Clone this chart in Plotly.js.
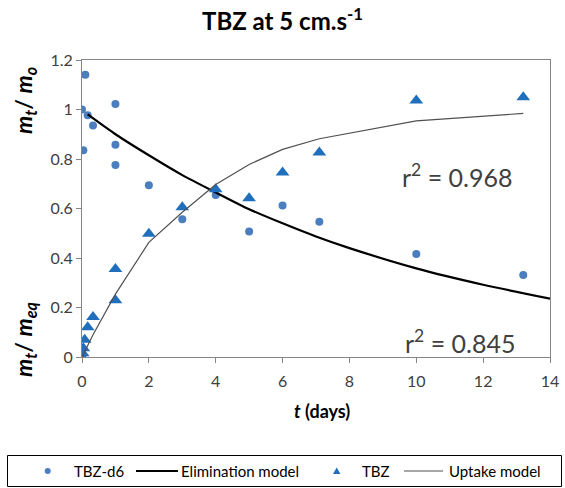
<!DOCTYPE html>
<html>
<head>
<meta charset="utf-8">
<script src="https://cdn.plot.ly/plotly-3.0.1.min.js"></script>
<style>html,body{margin:0;padding:0;background:#fff;}#chart{width:565px;height:488px;}</style>
</head>
<body>
<div id="chart"></div>
<script>
// TBZ-d6 (elimination) measurements
const d6Days = [0, 0.04, 0.1, 0.17, 0.33, 1, 1, 1, 2, 3, 4, 5, 6, 7.1, 10, 13.2];
const d6Ratio = [1.0, 0.835, 1.14, 0.977, 0.935, 1.022, 0.858, 0.776, 0.694, 0.557, 0.655, 0.507, 0.612, 0.546, 0.416, 0.331];

// Elimination model curve
const elimDays = [0.17, 1, 2, 3, 4, 5, 6, 7, 8, 10, 12, 14];
const elimRatio = [0.98, 0.90, 0.815, 0.735, 0.665, 0.597, 0.54, 0.487, 0.44, 0.358, 0.292, 0.236];

// TBZ (uptake) measurements
const tbzDays = [0, 0.02, 0.04, 0.08, 0.17, 0.33, 1, 1, 2, 3, 4, 5, 6, 7.1, 10, 13.2];
const tbzRatio = [0.0, 0.015, 0.035, 0.07, 0.12, 0.162, 0.229, 0.356, 0.498, 0.605, 0.678, 0.641, 0.745, 0.826, 1.036, 1.049];

// Uptake model curve
const upDays = [0, 0.17, 0.33, 1, 2, 3, 4, 5, 6, 7.1, 10, 13.2];
const upRatio = [0.0, 0.045, 0.09, 0.254, 0.463, 0.585, 0.697, 0.778, 0.839, 0.882, 0.954, 0.984];

const xTicks = [0, 2, 4, 6, 8, 10, 12, 14];
const yTicks = [0, 0.2, 0.4, 0.6, 0.8, 1, 1.2];
const r2Labels = ['r<sup>2</sup> = 0.968', 'r<sup>2</sup> = 0.845'];
const seriesNames = ['TBZ-d6', 'Elimination model', 'TBZ', 'Uptake model'];

const FONT = 'Lato, "Open Sans", sans-serif';
const C_D6 = '#4A7EBF', C_TBZ = '#1F6FBD';

const traces = [
  {x: d6Days, y: d6Ratio, name: seriesNames[0], mode: 'markers', type: 'scatter',
   marker: {symbol: 'circle', size: 8, color: C_D6}},
  {x: elimDays, y: elimRatio, name: seriesNames[1], mode: 'lines', type: 'scatter',
   line: {color: '#000000', width: 2.2, shape: 'spline', smoothing: 0.6}},
  {x: tbzDays, y: tbzRatio, name: seriesNames[2], mode: 'markers', type: 'scatter',
   marker: {symbol: 'triangle-up', size: 12, color: C_TBZ}},
  {x: upDays, y: upRatio, name: seriesNames[3], mode: 'lines', type: 'scatter',
   line: {color: '#505050', width: 1.2}}
];

// page-pixel -> paper coordinates (plot area 82..550 x 60..357)
const L = 82, R = 550, T = 60, B = 357;
const px = v => (v - L) / (R - L);
const py = v => (B - v) / (B - T);

const legY = 471;
const shapes = [
  // legend box
  {type: 'rect', xref: 'paper', yref: 'paper', x0: px(7.5), x1: px(561.5), y0: py(455.5), y1: py(486.5),
   line: {color: '#000000', width: 1}, fillcolor: 'rgba(0,0,0,0)'},
  // legend glyphs
  {type: 'circle', xref: 'paper', yref: 'paper', x0: px(44.7), x1: px(50.7), y0: py(468), y1: py(474),
   line: {width: 0}, fillcolor: C_D6},
  {type: 'line', xref: 'paper', yref: 'paper', x0: px(136), x1: px(178), y0: py(legY), y1: py(legY),
   line: {color: '#000000', width: 2.2}},
  {type: 'path', xref: 'paper', yref: 'paper',
   path: `M ${px(333)} ${py(474)} L ${px(340.4)} ${py(474)} L ${px(336.7)} ${py(467.5)} Z`,
   line: {width: 0}, fillcolor: C_TBZ},
  {type: 'line', xref: 'paper', yref: 'paper', x0: px(404), x1: px(443), y0: py(legY), y1: py(legY),
   line: {color: '#505050', width: 1.2}}
];

const note = (t, x, y, size, extra) => Object.assign({text: t, x: px(x), y: py(y), xref: 'paper', yref: 'paper',
  xanchor: 'center', yanchor: 'middle', showarrow: false, font: {family: FONT, size: size, color: '#000'}}, extra || {});
const legText = (t, x) => note(t, x, legY, 15, {xanchor: 'left'});

const layout = {
  width: 565, height: 488,
  margin: {l: L, r: 565 - R, t: T, b: 488 - B, autoexpand: false},
  paper_bgcolor: '#ffffff', plot_bgcolor: '#ffffff',
  font: {family: FONT, color: '#404040', size: 16},
  showlegend: false,
  title: {text: '<b>TBZ at 5 cm.s<sup>-1</sup></b>', x: 0.5, xref: 'container', xanchor: 'center',
          y: 1 - 22 / 488, yref: 'container', yanchor: 'middle', font: {family: FONT, size: 24, color: '#000000'}},
  xaxis: {range: [0, 14], tickvals: xTicks, ticktext: xTicks.map(String), automargin: false,
          showgrid: false, zeroline: false, showline: true, linecolor: '#868686', linewidth: 1,
          mirror: true, ticks: 'outside', ticklen: 5, tickcolor: '#868686', ticklabelstandoff: 5,
          tickfont: {family: FONT, size: 16, color: '#404040'}},
  yaxis: {range: [0, 1.2], tickvals: yTicks, ticktext: yTicks.map(String), automargin: false,
          showgrid: false, zeroline: false, showline: true, linecolor: '#868686', linewidth: 1,
          mirror: true, ticks: 'outside', ticklen: 5, tickcolor: '#868686',
          tickfont: {family: FONT, size: 16, color: '#404040'}},
  shapes: shapes,
  annotations: [
    {text: r2Labels[0], x: 11.23, y: 0.735, xref: 'x', yref: 'y', xanchor: 'center', yanchor: 'middle',
     showarrow: false, font: {family: FONT, size: 25, color: '#404040'}},
    {text: r2Labels[1], x: 11.3, y: 0.061, xref: 'x', yref: 'y', xanchor: 'center', yanchor: 'middle',
     showarrow: false, font: {family: FONT, size: 25, color: '#404040'}},
    note('<b><i>m<sub>t</sub></i>/ <i>m<sub>o</sub></i></b>', 24, 101, 23, {textangle: -90}),
    note('<b><i>m<sub>t</sub></i>/ <i>m<sub>eq</sub></i></b>', 24, 340, 23, {textangle: -90}),
    note('<b><i>t</i> (days)</b>', 322, 411, 18),
    legText(seriesNames[0], 71.7),
    legText(seriesNames[1], 179.3),
    legText(seriesNames[2], 360),
    legText(seriesNames[3], 446.7)
  ]
};

Plotly.newPlot('chart', traces, layout, {displayModeBar: false, staticPlot: true});
</script>
</body>
</html>
